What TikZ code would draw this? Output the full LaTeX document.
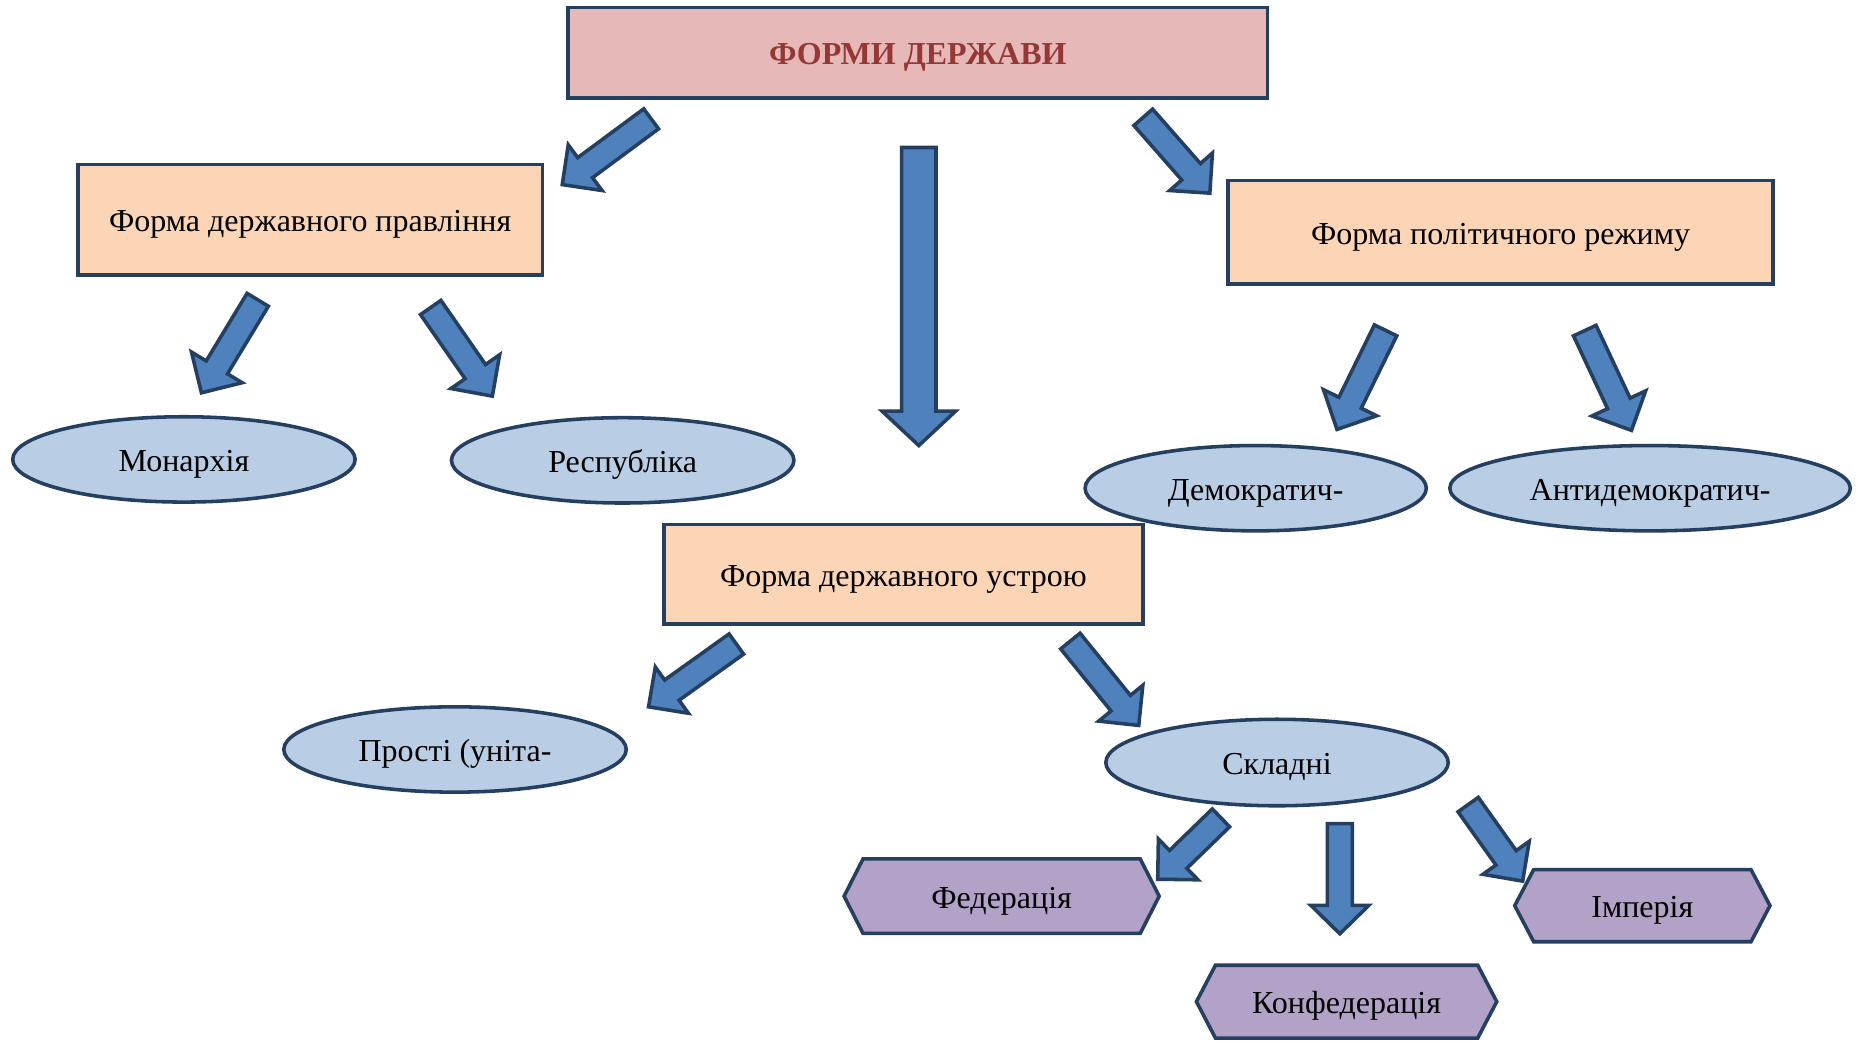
\documentclass[tikz,border=0pt]{standalone}
\usepackage{fontspec}
\setmainfont{Liberation Serif}
\usetikzlibrary{shapes.geometric,calc,backgrounds}
\definecolor{navy}{HTML}{243F60}
\definecolor{titlefill}{HTML}{E6B9B8}
\definecolor{titletext}{HTML}{953735}
\definecolor{boxfill}{HTML}{FBD5B5}
\definecolor{ellfill}{HTML}{B9CDE5}
\definecolor{hexfill}{HTML}{B3A2C7}
\definecolor{arrowblue}{HTML}{4F81BD}
% #1 tail, #2 tip, #3 shaft half width, #4 head half width, #5 head length
\newcommand\blockarrow[5]{%
  \draw[barrow] let \p1=(#1), \p2=(#2),
      \n1={atan2(\y2-\y1,\x2-\x1)},
      \n2={veclen(\x2-\x1,\y2-\y1)-#5} in
    ($(\p1)+({\n1+90}:#3)$) --
    ($(\p1)+({\n1}:\n2)+({\n1+90}:#3)$) --
    ($(\p1)+({\n1}:\n2)+({\n1+90}:#4)$) --
    (\p2) --
    ($(\p1)+({\n1}:\n2)+({\n1-90}:#4)$) --
    ($(\p1)+({\n1}:\n2)+({\n1-90}:#3)$) --
    ($(\p1)+({\n1-90}:#3)$) -- cycle;}
\begin{document}
\begin{tikzpicture}[x=1pt,y=1pt,
  every node/.style={font=\fontsize{27}{32}\selectfont, inner sep=0pt, text height=22pt, text depth=2pt},
  rectbox/.style={draw=navy, line width=3pt, fill=boxfill, rectangle},
  titlebox/.style={rectbox, fill=titlefill, text=titletext, font=\fontsize{27}{32}\selectfont\bfseries},
  ellbox/.style={draw=navy, line width=3pt, fill=ellfill, ellipse, minimum width=289pt, minimum height=72pt},
  hextext/.style={rectangle},
  hexbox/.style={draw=navy, line width=3pt, fill=hexfill, line join=miter},
  barrow/.style={draw=navy, line width=3pt, fill=arrowblue, line join=miter}]
\useasboundingbox (0,0) rectangle (1568,-880.2);

% boxes
\node[titlebox, minimum width=590pt, minimum height=76pt] (title) at (774.5,-44.5) {ФОРМИ ДЕРЖАВИ};
\node[rectbox, minimum width=392pt, minimum height=93pt] (prav) at (261.8,-185.4) {Форма державного правління};
\node[rectbox, minimum width=460pt, minimum height=87pt] (rezh) at (1266.4,-196) {Форма політичного режиму};
\node[rectbox, minimum width=404pt, minimum height=84pt] (ustr) at (762.4,-484.7) {Форма державного устрою};

% ellipses
\node[ellbox] (mon) at (155.2,-387.7) {Монархія};
\node[ellbox] (resp) at (525.5,-388.5) {Республіка};
\node[ellbox, minimum width=288pt] (dem) at (1059.7,-412) {Демократич-};
\node[ellbox, minimum width=338pt] (antidem) at (1392.5,-412) {Антидемократич-};
\node[ellbox] (prosti) at (384,-632.5) {Прості (уніта-};
\node[ellbox, minimum height=73pt] (skl) at (1077.7,-643.5) {Складні};

% hexagon labels
\node[hextext, minimum width=265.5pt, minimum height=62.5pt] (fed) at (845.3,-756.3) {Федерація};
\node[hextext, minimum width=253pt, minimum height=61pt] (konf) at (1136.4,-845.3) {Конфедерація};
\node[hextext, minimum width=215pt, minimum height=60.5pt] (imp) at (1386,-764.3) {Імперія};

% arrow end points
\coordinate (a1s) at (549.5,-100.3);  \coordinate (a1e) at (474.5,-155.8);
\coordinate (a2s) at (775.4,-124.5);  \coordinate (a2e) at (775.4,-376);
\coordinate (a3s) at (964.8,-99.0);   \coordinate (a3e) at (1021,-163);
\coordinate (a4s) at (217.5,-253);    \coordinate (a4e) at (170,-331.5);
\coordinate (a5s) at (363.5,-259.5);  \coordinate (a5e) at (415.5,-334.3);
\coordinate (a6s) at (1169.3,-278.8); \coordinate (a6e) at (1128.3,-362.4);
\coordinate (a7s) at (1337.4,-279);   \coordinate (a7e) at (1376.8,-363.2);
\coordinate (a8s) at (621.4,-543.5);  \coordinate (a8e) at (547.3,-596.5);
\coordinate (a9s) at (903.3,-541);    \coordinate (a9e) at (961,-612.2);
\coordinate (a10s) at (1030.4,-690.2);\coordinate (a10e) at (977,-742);
\coordinate (a11s) at (1130.7,-695);  \coordinate (a11e) at (1130.7,-788);
\coordinate (a12s) at (1239,-679);    \coordinate (a12e) at (1285,-743.6);

\blockarrow{a1s}{a1e}{10.5}{24}{24}
\blockarrow{a2s}{a2e}{14.5}{31}{29}
\blockarrow{a3s}{a3e}{10.5}{24}{24}
\blockarrow{a4s}{a4e}{10.5}{25}{25}
\blockarrow{a5s}{a5e}{10.5}{25}{25}
\blockarrow{a6s}{a6e}{10.5}{25}{25}
\blockarrow{a7s}{a7e}{10.5}{25}{25}
\blockarrow{a8s}{a8e}{10.5}{24}{24}
\blockarrow{a9s}{a9e}{10.5}{24}{24}
\blockarrow{a10s}{a10e}{10.5}{24}{24}
\blockarrow{a11s}{a11e}{10.5}{24.5}{24}
\blockarrow{a12s}{a12e}{10.5}{24}{24}

\begin{scope}[on background layer]
  \fill[white] (0,0) rectangle (1568,-880.2);
  \foreach \n in {fed,konf,imp}
    \draw[hexbox] ([xshift=16pt]\n.north west) -- ([xshift=-16pt]\n.north east) -- (\n.east)
      -- ([xshift=-16pt]\n.south east) -- ([xshift=16pt]\n.south west) -- (\n.west) -- cycle;
\end{scope}
\end{tikzpicture}
\end{document}
